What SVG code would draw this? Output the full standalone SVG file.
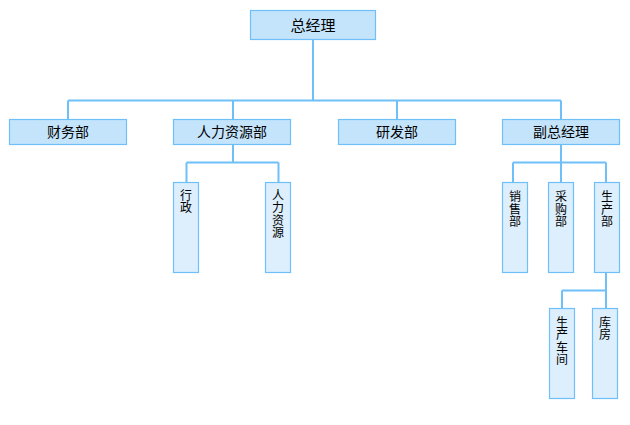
<svg xmlns="http://www.w3.org/2000/svg" width="630" height="425" viewBox="0 0 630 425">
<style>
.h{fill:#C4E4FC;stroke:#6FC0F8;stroke-width:1.2}
.v{fill:#DDEFFD;stroke:#6FC0F8;stroke-width:1.2}
.t{font-family:"Noto Sans CJK SC","Noto Sans",sans-serif;fill:#000;text-anchor:middle}
.th{font-size:14px}
.tv{font-size:12px;text-anchor:start;writing-mode:vertical-rl;letter-spacing:0.5px}
#connectors path{fill:none;stroke:#6FC0F8;stroke-width:2}
</style>
<rect width="630" height="425" fill="#fff"/>
<g id="connectors">
<path d="M313,40 V100.5 M68,100.5 H561 M68,100.5 V119 M233,100.5 V119 M397,100.5 V119 M561,100.5 V119"/>
<path d="M233,145 V162.5 M186.5,162.5 H278.5 M186.5,162.5 V182 M278.5,162.5 V182"/>
<path d="M561,145 V162.5 M513,162.5 H606 M513,162.5 V182 M561,162.5 V182 M606,162.5 V182"/>
<path d="M606,273 V290.5 M562,290.5 H606 M562,290.5 V308 M606,290.5 V308"/>
</g>
<g id="n-zongjingli"><rect class="h" x="250.5" y="10.5" width="125" height="29"/><text class="t" x="313" y="30.5" style="font-size:15px">总经理</text></g>
<g id="n-caiwu"><rect class="h" x="9.5" y="119.5" width="117" height="25"/><text class="t th" x="68" y="137">财务部</text></g>
<g id="n-renli"><rect class="h" x="173.5" y="119.5" width="117" height="25"/><text class="t th" x="232" y="137">人力资源部</text></g>
<g id="n-yanfa"><rect class="h" x="338.5" y="119.5" width="117" height="25"/><text class="t th" x="397" y="137">研发部</text></g>
<g id="n-fuzong"><rect class="h" x="502.5" y="119.5" width="117" height="25"/><text class="t th" x="561" y="137">副总经理</text></g>
<g id="n-xingzheng"><rect class="v" x="173.5" y="182.5" width="25" height="90"/><text class="t tv" x="186" y="189">行政</text></g>
<g id="n-renliziyuan"><rect class="v" x="265.5" y="182.5" width="25" height="90"/><text class="t tv" x="278" y="189">人力资源</text></g>
<g id="n-xiaoshou"><rect class="v" x="502.5" y="182.5" width="25" height="90"/><text class="t tv" x="515" y="190.5">销售部</text></g>
<g id="n-caigou"><rect class="v" x="548.5" y="182.5" width="25" height="90"/><text class="t tv" x="561" y="190.5">采购部</text></g>
<g id="n-shengchan"><rect class="v" x="594.5" y="182.5" width="25" height="90"/><text class="t tv" x="607" y="190.5">生产部</text></g>
<g id="n-chejian"><rect class="v" x="549.5" y="308.5" width="25" height="90"/><text class="t tv" x="562" y="316">生产车间</text></g>
<g id="n-kufang"><rect class="v" x="592.5" y="308.5" width="25" height="90"/><text class="t tv" x="605" y="316">库房</text></g>
</svg>
